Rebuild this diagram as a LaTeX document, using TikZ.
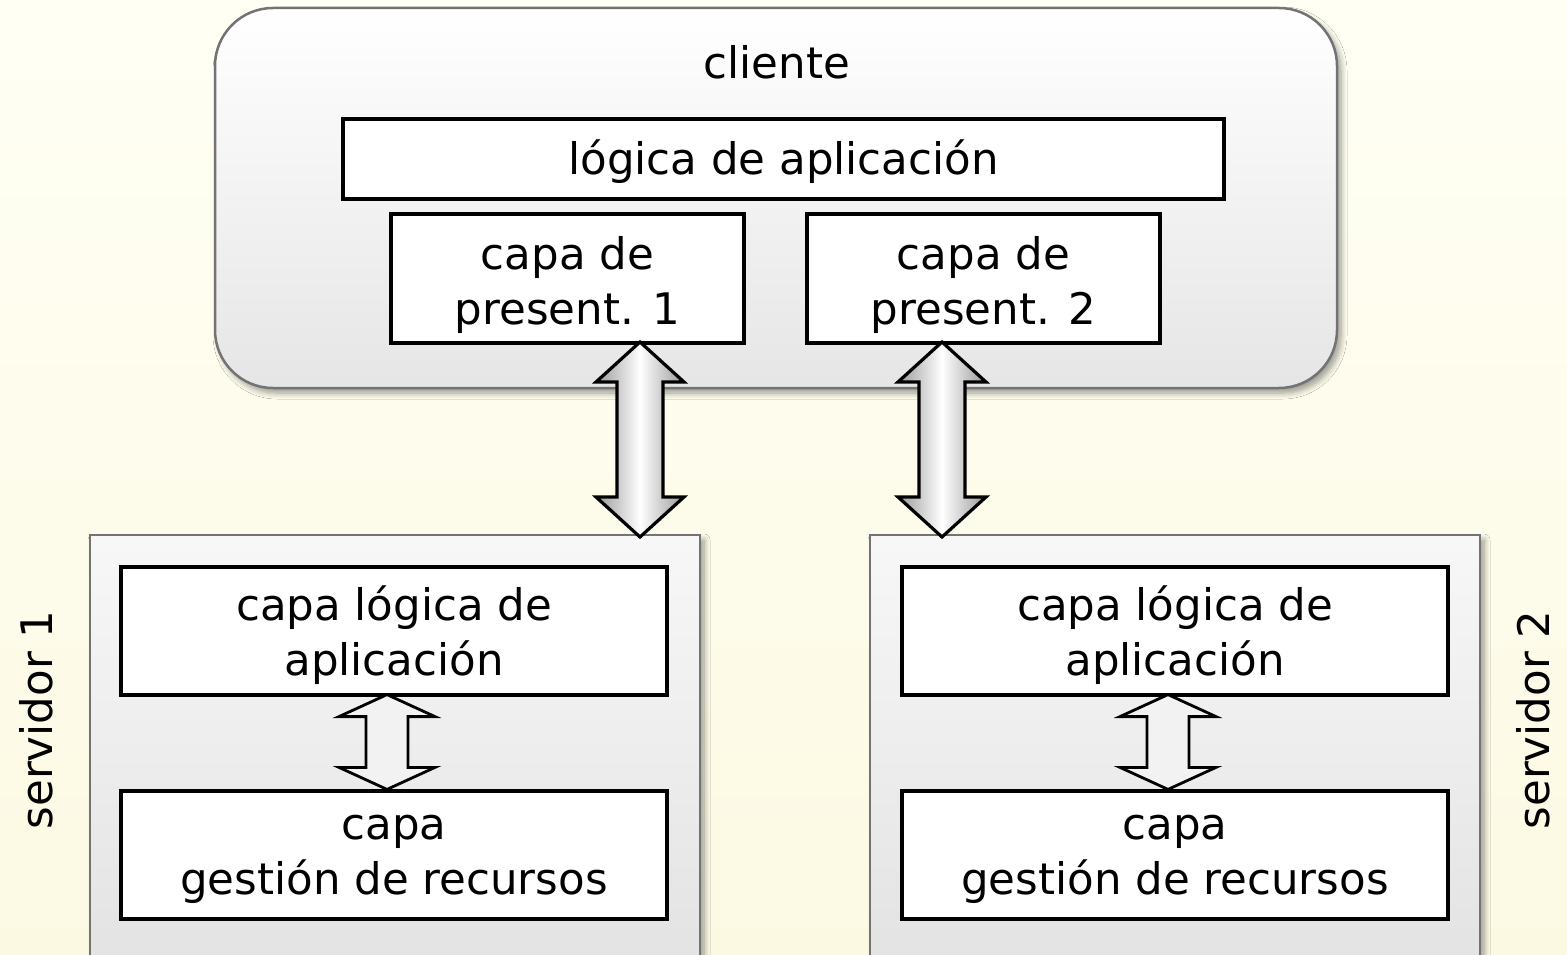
\documentclass[tikz,border=0pt]{standalone}
\usepackage{fontspec}
\setmainfont{DejaVu Sans}
\usetikzlibrary{calc,shadows.blur}
\definecolor{bgtop}{HTML}{FFFFF4}
\definecolor{bgbot}{HTML}{FCF9E3}
\newcommand\dblarr[6]{\draw[#6] (#1) -- ($(#1)+(#3,#5)$) -- ($(#1)+(#4,#5)$) -- ($(#2)+(#4,-#5)$) -- ($(#2)+(#3,-#5)$) -- (#2) -- ($(#2)+(-#3,-#5)$) -- ($(#2)+(-#4,-#5)$) -- ($(#1)+(-#4,#5)$) -- ($(#1)+(-#3,#5)$) -- cycle;}
\tikzset{
  inbox/.style={draw=black, line width=3.2pt, fill=white, align=center, inner sep=0pt},
  clientbox/.style={draw=black!55, line width=2.5pt, rounded corners=58pt, top color=white, bottom color=black!10,
    blur shadow={shadow xshift=4pt, shadow yshift=-5pt, shadow blur steps=8, shadow blur radius=6pt}},
  serverbox/.style={draw=black!55, line width=2.5pt, top color=black!3, bottom color=black!11,
    blur shadow={shadow xshift=4pt, shadow yshift=-5pt, shadow blur steps=8, shadow blur radius=6pt}},
  bigarrow/.style={draw=black, line width=3.2pt, line join=miter, left color=black!40, right color=black!40, middle color=white},
  smallarrow/.style={draw=black, line width=2.8pt, fill=black!5},
  lbl/.style={align=center, inner sep=0pt},
}
\begin{document}
\begin{tikzpicture}[x=1pt,y=-1pt, font=\fontsize{43.5}{55}\selectfont]
\useasboundingbox (0,0) rectangle (1567,955);
\fill[top color=bgtop, bottom color=bgbot] (0,0) rectangle (1567,955);
% client
\path[clientbox] (215,8) rectangle (1337,388);
\node[lbl] (cli) at (777,62) {cliente};
\node[inbox, minimum width=881pt, minimum height=80pt] (logica) at (783.5,159) {};
\node[lbl] (logicat) at ($(logica.center)+(0,3)$) {lógica de aplicación};
\node[inbox, minimum width=353pt, minimum height=129pt] (p1) at (567.5,278.5) {};
\node[inbox, minimum width=353pt, minimum height=129pt] (p2) at (983.5,278.5) {};
\node[lbl] (p1t) at ($(p1.center)+(0,6)$) {capa de\\present. 1};
\node[lbl] (p2t) at ($(p2.center)+(0,6)$) {capa de\\present. 2};
% servers
\path[serverbox] (90,535) rectangle (700,962);
\path[serverbox] (870,535) rectangle (1480,962);
\node[inbox, minimum width=546pt, minimum height=128pt] (l1) at (394,631) {};
\node[inbox, minimum width=546pt, minimum height=128pt] (g1) at (394,855) {};
\node[inbox, minimum width=546pt, minimum height=128pt] (l2) at (1175,631) {};
\node[inbox, minimum width=546pt, minimum height=128pt] (g2) at (1175,855) {};
\node[lbl] (l1t) at ($(l1.center)+(0,4)$) {capa lógica de\\aplicación};
\node[lbl] (g1t) at ($(g1.center)+(0,4)$) {capa\\gestión de recursos};
\node[lbl] (l2t) at ($(l2.center)+(0,4)$) {capa lógica de\\aplicación};
\node[lbl] (g2t) at ($(g2.center)+(0,4)$) {capa\\gestión de recursos};
\node[lbl, rotate=90] (s1) at (36,720) {servidor 1};
\node[lbl, rotate=90] (s2) at (1533,720) {servidor 2};
% arrows
\coordinate (a1t) at (640,342);
\coordinate (a1b) at (640,537);
\coordinate (a2t) at (942,342);
\coordinate (a2b) at (942,537);
\coordinate (b1t) at ($(l1.south)+(-7,-2)$);
\coordinate (b1b) at ($(g1.north)+(-7,0)$);
\coordinate (b2t) at ($(l2.south)+(-7,-2)$);
\coordinate (b2b) at ($(g2.north)+(-7,0)$);
\dblarr{a1t}{a1b}{44}{23}{40}{bigarrow}
\dblarr{a2t}{a2b}{44}{23}{40}{bigarrow}
\dblarr{b1t}{b1b}{48}{21}{22}{smallarrow}
\dblarr{b2t}{b2b}{48}{21}{22}{smallarrow}
\end{tikzpicture}
\end{document}
